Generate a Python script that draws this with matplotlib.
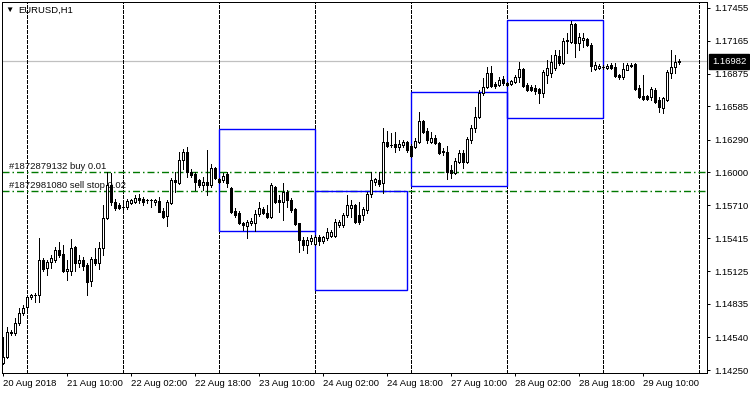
import matplotlib
matplotlib.use("Agg")
import matplotlib.pyplot as plt
from matplotlib.patches import Rectangle

plt.rcParams['font.family'] = ['Liberation Sans', 'DejaVu Sans']
plt.rcParams['lines.scale_dashes'] = False

# ---------------- data (EURUSD H1, bar 0 = 20 Aug 2018 18:00) ----------------
opens = [1.14312, 1.14365, 1.14586, 1.14578, 1.14666, 1.14755, 1.14808, 1.14900, 1.14910, 1.14914,
         1.15224, 1.15153, 1.15206, 1.15224, 1.15312, 1.15277, 1.15130, 1.15126, 1.15339, 1.15197,
         1.15224, 1.15180, 1.15038, 1.15233, 1.15197, 1.15330, 1.15596, 1.15888, 1.15738, 1.15711,
         1.15690, 1.15693, 1.15729, 1.15738, 1.15773, 1.15764, 1.15752, 1.15758, 1.15738, 1.15747,
         1.15658, 1.15614, 1.15729, 1.15932, 1.15906, 1.16109, 1.16180, 1.16003, 1.15985, 1.15932,
         1.15888, 1.15915, 1.15888, 1.16038, 1.15941, 1.15932, 1.15985, 1.15862, 1.15658, 1.15641,
         1.15552, 1.15525, 1.15552, 1.15552, 1.15631, 1.15676, 1.15641, 1.15605, 1.15870, 1.15755,
         1.15738, 1.15826, 1.15755, 1.15676, 1.15552, 1.15401, 1.15357, 1.15392, 1.15366, 1.15428,
         1.15392, 1.15419, 1.15436, 1.15436, 1.15534, 1.15534, 1.15622, 1.15685, 1.15711, 1.15622,
         1.15622, 1.15667, 1.15808, 1.15915, 1.15932, 1.15906, 1.16269, 1.16238, 1.16251, 1.16224,
         1.16242, 1.16269, 1.16233, 1.16224, 1.16269, 1.16454, 1.16366, 1.16269, 1.16304, 1.16260,
         1.16176, 1.16180, 1.16021, 1.15994, 1.16092, 1.16171, 1.16092, 1.16286, 1.16393, 1.16490,
         1.16703, 1.16756, 1.16880, 1.16782, 1.16773, 1.16826, 1.16791, 1.16782, 1.16800, 1.16844,
         1.16915, 1.16773, 1.16756, 1.16747, 1.16738, 1.16703, 1.16862, 1.16880, 1.16924, 1.17030,
         1.16968, 1.17160, 1.17154, 1.17313, 1.17145, 1.17172, 1.17181, 1.17128, 1.16915, 1.16924,
         1.16930, 1.16924, 1.16950, 1.16933, 1.16862, 1.16844, 1.16906, 1.16950, 1.16959, 1.16747,
         1.16676, 1.16676, 1.16667, 1.16729, 1.16641, 1.16570, 1.16641, 1.16880, 1.16933, 1.16977]
highs = [1.14542, 1.14631, 1.14604, 1.14710, 1.14799, 1.14826, 1.14905, 1.14923, 1.14932, 1.15419,
         1.15242, 1.15224, 1.15268, 1.15339, 1.15383, 1.15357, 1.15224, 1.15410, 1.15348, 1.15268,
         1.15251, 1.15197, 1.15251, 1.15330, 1.15383, 1.15711, 1.16003, 1.15990, 1.15764, 1.15729,
         1.15720, 1.15764, 1.15764, 1.15800, 1.15808, 1.15782, 1.15764, 1.15764, 1.15764, 1.15782,
         1.15685, 1.15755, 1.15950, 1.16003, 1.16180, 1.16206, 1.16224, 1.16030, 1.16003, 1.15941,
         1.15959, 1.16198, 1.16074, 1.16047, 1.15950, 1.15994, 1.16003, 1.15870, 1.15685, 1.15658,
         1.15560, 1.15578, 1.15596, 1.15667, 1.15738, 1.15693, 1.15711, 1.15906, 1.15879, 1.15800,
         1.15906, 1.15844, 1.15773, 1.15685, 1.15552, 1.15428, 1.15428, 1.15445, 1.15445, 1.15445,
         1.15436, 1.15507, 1.15490, 1.15587, 1.15578, 1.15641, 1.15800, 1.15755, 1.15720, 1.15738,
         1.15693, 1.15826, 1.16003, 1.15950, 1.16003, 1.16393, 1.16366, 1.16348, 1.16357, 1.16286,
         1.16286, 1.16278, 1.16251, 1.16304, 1.16534, 1.16464, 1.16393, 1.16357, 1.16331, 1.16265,
         1.16215, 1.16233, 1.16065, 1.16127, 1.16198, 1.16198, 1.16313, 1.16419, 1.16578, 1.16729,
         1.16835, 1.16933, 1.16942, 1.16800, 1.16844, 1.16853, 1.16800, 1.16817, 1.16862, 1.16977,
         1.16924, 1.16791, 1.16773, 1.16773, 1.16747, 1.16906, 1.16995, 1.17039, 1.17083, 1.17083,
         1.17189, 1.17234, 1.17340, 1.17322, 1.17234, 1.17234, 1.17189, 1.17145, 1.16977, 1.16959,
         1.16950, 1.16959, 1.16968, 1.16968, 1.16871, 1.16968, 1.16968, 1.16968, 1.16968, 1.16773,
         1.16862, 1.16685, 1.16756, 1.16747, 1.16667, 1.16667, 1.16906, 1.17083, 1.17039, 1.17003]
lows = [1.14305, 1.14360, 1.14560, 1.14560, 1.14649, 1.14737, 1.14781, 1.14879, 1.14852, 1.14852,
        1.15126, 1.15091, 1.15153, 1.15206, 1.15251, 1.15117, 1.15047, 1.15091, 1.15126, 1.15162,
        1.15135, 1.14914, 1.14994, 1.15180, 1.15144, 1.15268, 1.15587, 1.15711, 1.15667, 1.15676,
        1.15667, 1.15676, 1.15720, 1.15729, 1.15729, 1.15711, 1.15729, 1.15693, 1.15711, 1.15645,
        1.15596, 1.15525, 1.15720, 1.15826, 1.15900, 1.16030, 1.15959, 1.15959, 1.15844, 1.15870,
        1.15844, 1.15800, 1.15870, 1.15941, 1.15906, 1.15915, 1.15870, 1.15641, 1.15605, 1.15543,
        1.15490, 1.15419, 1.15534, 1.15481, 1.15614, 1.15631, 1.15600, 1.15596, 1.15729, 1.15649,
        1.15578, 1.15693, 1.15649, 1.15534, 1.15295, 1.15312, 1.15286, 1.15366, 1.15357, 1.15357,
        1.15375, 1.15401, 1.15428, 1.15428, 1.15516, 1.15516, 1.15605, 1.15605, 1.15552, 1.15543,
        1.15578, 1.15641, 1.15782, 1.15888, 1.15879, 1.15817, 1.16224, 1.16224, 1.16180, 1.16198,
        1.16224, 1.16180, 1.16136, 1.16215, 1.16260, 1.16348, 1.16260, 1.16260, 1.16255, 1.16165,
        1.16154, 1.15941, 1.15950, 1.15985, 1.16083, 1.16038, 1.16083, 1.16260, 1.16357, 1.16481,
        1.16685, 1.16747, 1.16756, 1.16747, 1.16765, 1.16773, 1.16765, 1.16773, 1.16791, 1.16800,
        1.16756, 1.16720, 1.16720, 1.16694, 1.16614, 1.16667, 1.16791, 1.16844, 1.16906, 1.16950,
        1.16959, 1.17057, 1.17145, 1.17021, 1.17083, 1.17110, 1.17119, 1.16898, 1.16906, 1.16915,
        1.16915, 1.16915, 1.16915, 1.16844, 1.16826, 1.16826, 1.16906, 1.16933, 1.16729, 1.16662,
        1.16641, 1.16641, 1.16641, 1.16614, 1.16534, 1.16525, 1.16632, 1.16835, 1.16880, 1.16959]
closes = [1.14365, 1.14586, 1.14575, 1.14666, 1.14755, 1.14799, 1.14896, 1.14910, 1.14915, 1.15224,
          1.15144, 1.15206, 1.15242, 1.15312, 1.15268, 1.15126, 1.15140, 1.15330, 1.15197, 1.15224,
          1.15171, 1.15029, 1.15233, 1.15197, 1.15330, 1.15596, 1.15888, 1.15738, 1.15685, 1.15685,
          1.15697, 1.15747, 1.15755, 1.15773, 1.15755, 1.15738, 1.15758, 1.15752, 1.15755, 1.15649,
          1.15605, 1.15738, 1.15932, 1.15915, 1.16109, 1.16180, 1.16003, 1.15977, 1.15915, 1.15888,
          1.15915, 1.15888, 1.16038, 1.15950, 1.15915, 1.15968, 1.15906, 1.15649, 1.15622, 1.15552,
          1.15534, 1.15560, 1.15569, 1.15631, 1.15685, 1.15641, 1.15605, 1.15888, 1.15738, 1.15738,
          1.15826, 1.15755, 1.15667, 1.15543, 1.15401, 1.15357, 1.15401, 1.15419, 1.15428, 1.15392,
          1.15428, 1.15472, 1.15472, 1.15560, 1.15560, 1.15622, 1.15711, 1.15711, 1.15560, 1.15560,
          1.15676, 1.15808, 1.15932, 1.15941, 1.15897, 1.16269, 1.16233, 1.16246, 1.16224, 1.16251,
          1.16269, 1.16198, 1.16145, 1.16278, 1.16454, 1.16357, 1.16286, 1.16304, 1.16260, 1.16171,
          1.16185, 1.16003, 1.15994, 1.16100, 1.16171, 1.16092, 1.16295, 1.16393, 1.16490, 1.16703,
          1.16756, 1.16880, 1.16765, 1.16765, 1.16817, 1.16791, 1.16773, 1.16809, 1.16844, 1.16915,
          1.16765, 1.16729, 1.16729, 1.16720, 1.16703, 1.16889, 1.16924, 1.16977, 1.17039, 1.16968,
          1.17163, 1.17168, 1.17313, 1.17145, 1.17198, 1.17189, 1.17128, 1.16942, 1.16950, 1.16942,
          1.16936, 1.16942, 1.16924, 1.16853, 1.16844, 1.16915, 1.16950, 1.16942, 1.16738, 1.16667,
          1.16650, 1.16650, 1.16738, 1.16623, 1.16578, 1.16658, 1.16889, 1.16933, 1.16977, 1.16982]

time_tick_bars = [0, 16, 32, 48, 64, 80, 96, 112, 128, 144, 160]
time_tick_labels = ["20 Aug 2018", "21 Aug 10:00", "22 Aug 02:00", "22 Aug 18:00",
                    "23 Aug 10:00", "24 Aug 02:00", "24 Aug 18:00", "27 Aug 10:00",
                    "28 Aug 02:00", "28 Aug 18:00", "29 Aug 10:00"]
day_separator_bars = [6, 30, 54, 78, 102, 126, 150, 174]

price_ticks = [1.17455, 1.17165, 1.16875, 1.16585, 1.16290, 1.16000,
               1.15710, 1.15415, 1.15125, 1.14835, 1.14540, 1.14250]

# daily range boxes: (start bar, end bar, high, low)
box_start = [54, 78, 102, 126]
box_end = [78, 101, 126, 150]
box_high = [1.16384, 1.15832, 1.16709, 1.17346]
box_low = [1.15485, 1.14955, 1.15876, 1.16481]

order_labels = ["#1872879132 buy 0.01", "#1872981080 sell stop 0.02"]
order_prices = [1.16000, 1.15835]
bid_price = 1.16982
symbol_label = "EURUSD,H1"

# ---------------- figure ----------------
W, H = 750, 394
fig = plt.figure(figsize=(W / 100, H / 100), dpi=100)
fig.patch.set_facecolor('white')
ax = fig.add_axes([2 / W, 21 / H, 705 / W, 371 / H])
ax.set_facecolor('white')
ax.set_xlim(-0.25, 176)
ax.set_ylim(1.142235, 1.17508)

px = 0.72  # one pixel in points
fs = 6.8

# bid line
ax.axhline(bid_price, color='#c0c0c0', lw=0.9, zorder=1)

# day separators
for b in day_separator_bars:
    ax.axvline(b, color='black', lw=px, linestyle=(0, (3 * px, 2 * px)), zorder=1,
               antialiased=False)

# order lines
for p in order_prices:
    ax.axhline(p, color='#007800', lw=1.0, linestyle=(0, (7 * px, 3 * px, 1.5 * px, 3 * px)),
               zorder=1)

# order labels
for txt, p, dy in zip(order_labels, order_prices, [1.2, 0.6]):
    ax.annotate(txt, xy=(1.5, p), xytext=(0, dy), textcoords='offset points',
                ha='left', va='bottom', fontsize=fs, color='#111111', zorder=1.5)

# boxes
for s, e, hi, lo in zip(box_start, box_end, box_high, box_low):
    ax.add_patch(Rectangle((s, lo), e - s, hi - lo, fill=False, edgecolor='#0000ff',
                           lw=1.0, zorder=2))

# candles
idx = list(range(len(opens)))
ax.vlines(idx, lows, highs, color='black', lw=px, zorder=3, antialiased=False)
bottoms = [min(o, c) for o, c in zip(opens, closes)]
heights = [abs(c - o) for o, c in zip(opens, closes)]
faces = ['white' if c >= o else 'black' for o, c in zip(opens, closes)]
ax.bar(idx, heights, width=0.5, bottom=bottoms, color=faces, edgecolor='black',
       linewidth=px, zorder=4, antialiased=False)

# axes styling
for sp in ax.spines.values():
    sp.set_color('black')
    sp.set_linewidth(px)
    sp.set_antialiased(False)

ax.yaxis.tick_right()
ax.set_yticks(price_ticks)
ax.set_yticklabels([f"{v:.5f}" for v in price_ticks])
ax.tick_params(axis='y', direction='out', length=2.5, width=px, pad=2.5,
               labelsize=fs, colors='black')

ax.set_xticks(time_tick_bars)
ax.set_xticklabels(time_tick_labels)
for lab in ax.get_xticklabels():
    lab.set_ha('left')
ax.tick_params(axis='x', direction='out', length=2.5, width=px, pad=1.5,
               labelsize=fs, colors='black')

# bid price tag
ax.annotate(f"{bid_price:.5f}", xy=(1, bid_price), xycoords=('axes fraction', 'data'),
            xytext=(3.6, 0), textcoords='offset points', ha='left', va='center',
            fontsize=fs, color='white', annotation_clip=False,
            bbox=dict(boxstyle='square,pad=0.3', fc='black', ec='black'))

# symbol title
fig.text(5 / W, 1 - 10 / H, "\u25bc", fontsize=6, va='center', ha='left', color='black')
fig.text(18 / W, 1 - 10 / H, symbol_label, fontsize=fs, va='center', ha='left', color='black')

fig.savefig("out.png", dpi=100, facecolor='white')
